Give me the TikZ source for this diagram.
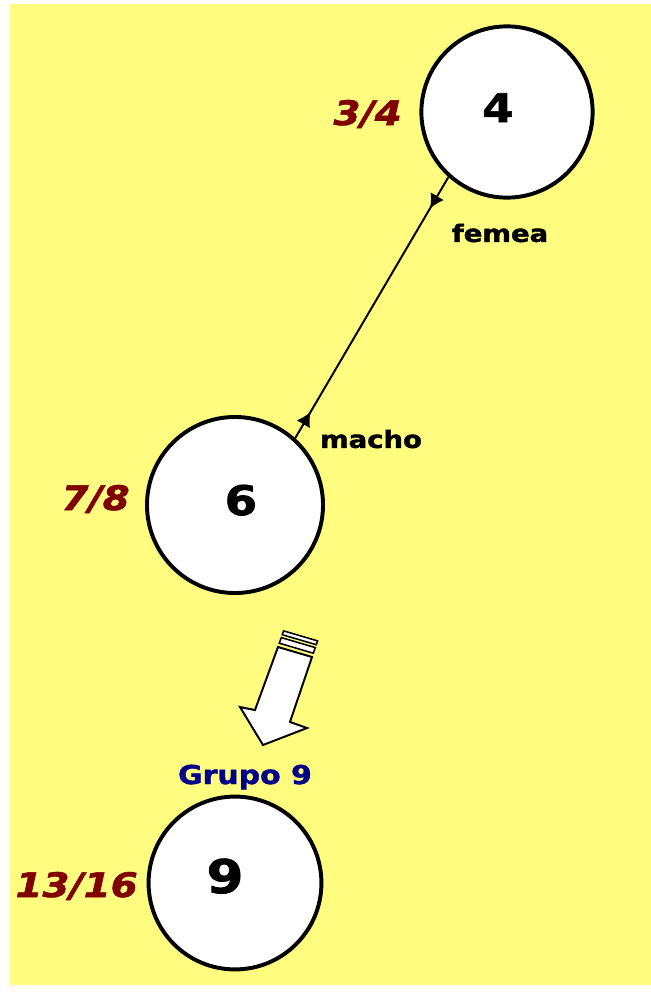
\documentclass[tikz,border=0pt]{standalone}
\usepackage{fontspec}
\setmainfont{DejaVu Sans}[FakeStretch=1.15, FakeBold=1.6]
\usetikzlibrary{arrows.meta, positioning, decorations.markings}
\definecolor{bgyellow}{RGB}{255,252,128}
\definecolor{fracred}{RGB}{128,0,0}
\definecolor{grupoblue}{RGB}{0,0,136}

\begin{document}
\begin{tikzpicture}
[x=0.025cm, y=-0.025cm,
   circ/.style={shape=circle, draw, line width=2.8pt, fill=white, inner sep=0pt},
   num/.style={font=\bfseries\fontsize{#1}{#1}\selectfont, inner sep=0pt, anchor=base},
   frac/.style={font=\bfseries\itshape\fontsize{24}{24}\selectfont, text=fracred, inner sep=0pt, anchor=base east},
   sex/.style={font=\bfseries\fontsize{17}{17}\selectfont, inner sep=0pt},
   link/.style={line width=1.4pt, postaction=decorate, decoration={markings,
      mark=at position 0.12 with {\arrow{Latex[length=10pt, width=11pt]}},
      mark=at position 0.90 with {\arrowreversed{Latex[length=10pt, width=11pt]}}}},
   hollow/.style={draw, line width=1.4pt, fill=white, line join=miter}]
\useasboundingbox (0,0) rectangle (651,993);
\fill[white] (0,0) rectangle (651,993);
\fill[bgyellow] (10,4) rectangle (651,985);
% circles
\node[circ, minimum size=4.28cm] (c4) at (507,112) {};
\node[circ, minimum size=4.4cm] (c6) at (235,505) {};
\node[circ, minimum size=4.32cm] (c9) at (235,883) {};
\node[num=28] (n4) at (498,122) {4};
\node[num=29] (n6) at (241,515) {6};
\node[num=33] (n9) at (225,893) {9};
% fractions
\node[frac] (f4) at (402,125) {3/4};
\node[frac] (f6) at (130,510) {7/8};
\node[frac] (f9) at (138,897) {13/16};
% link between parents
\draw[link] (c4.228) -- (c6.48);
\node[sex] (fem) at (500,233) {femea};
\node[sex] (mac) at (371,439) {macho};
% hollow arrow towards the group
\draw[hollow] (278,647) -- (312,657) -- (290,722) -- (307,728) -- (263,745)
   -- (240,707) -- (255,710) -- cycle;
\draw[hollow, line width=1.1pt] (279.3,643.2) -- (313.3,653.2) -- (315.3,647.6) -- (281.3,637.6) -- cycle;
\draw[hollow, line width=1.1pt] (282.3,634.7) -- (316.3,644.7) -- (317.6,640.9) -- (283.6,630.9) -- cycle;
\node[font=\bfseries\fontsize{18.5}{18.5}\selectfont, text=grupoblue, inner sep=0pt, anchor=base]
   (g9) at (245,784) {Grupo 9};
\end{tikzpicture}
\end{document}
